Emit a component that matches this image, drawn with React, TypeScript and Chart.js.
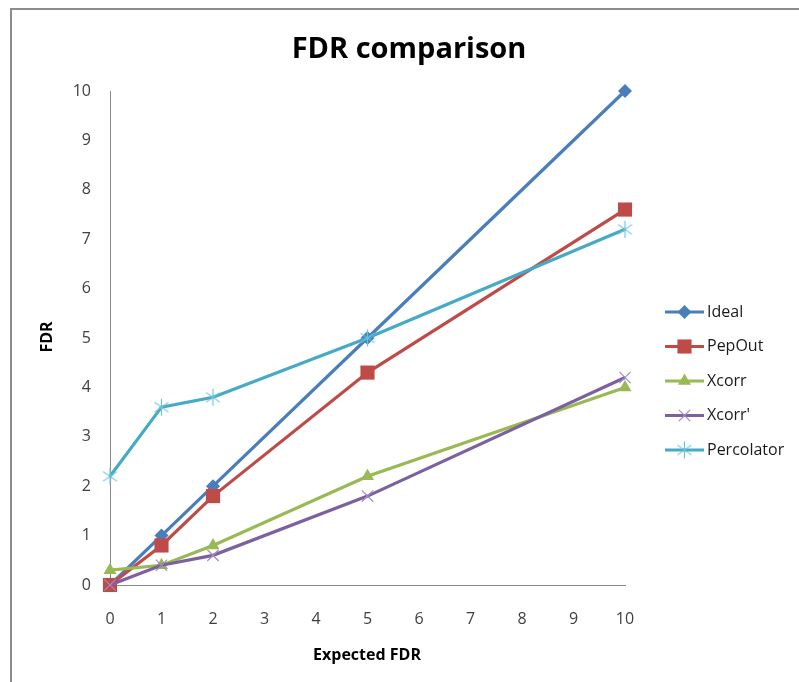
import React, { useEffect, useRef } from 'react';
import { Chart, registerables } from 'chart.js';

Chart.register(...registerables);

// ---- data ----
const xValues = [0, 1, 2, 5, 10];
const seriesNames = ['Ideal', 'PepOut', 'Xcorr', "Xcorr'", 'Percolator'];
const ideal = [0, 1, 2, 5, 10];
const pepOut = [0, 0.8, 1.8, 4.3, 7.6];
const xcorr = [0.3, 0.4, 0.8, 2.2, 4.0];
const xcorrPrime = [0, 0.4, 0.6, 1.8, 4.2];
const percolator = [2.2, 3.6, 3.8, 5.0, 7.2];
const xTickLabels = ['0', '1', '2', '3', '4', '5', '6', '7', '8', '9', '10'];
const yTickLabels = ['0', '1', '2', '3', '4', '5', '6', '7', '8', '9', '10'];

const titleText = 'FDR comparison';
const xTitle = 'Expected FDR';
const yTitle = 'FDR';

const FONT = "'Open Sans', 'DejaVu Sans', sans-serif";
const lineColors = ['#4A7EBB', '#BE4B48', '#98B954', '#7D60A0', '#46AAC5'];
const markerStroke = ['#4A7EBB', '#BE4B48', '#98B954', '#A08CC4', '#6CC3D9'];
const markerStyles = ['rectRot', 'rect', 'triangle', 'crossRot', 'asterisk'];
const markerRadius = [7, 10, 7.5, 8, 8.5];

function makeAsterisk(color: string, r: number) {
  const c = document.createElement('canvas');
  const s = Math.ceil(r * 2 + 2);
  c.width = s;
  c.height = s;
  const g = c.getContext('2d') as CanvasRenderingContext2D;
  g.strokeStyle = color;
  g.lineWidth = 1.2;
  const cx = s / 2, cy = s / 2;
  g.beginPath();
  for (const deg of [90, 35, 145]) {
    const a = (deg * Math.PI) / 180;
    g.moveTo(cx - r * Math.cos(a), cy - r * Math.sin(a));
    g.lineTo(cx + r * Math.cos(a), cy + r * Math.sin(a));
  }
  g.stroke();
  return c;
}

function drawMarker(ctx: CanvasRenderingContext2D, i: number, x: number, y: number, asterisk: HTMLCanvasElement) {
  const style = markerStyles[i];
  const r = markerRadius[i];
  ctx.save();
  ctx.fillStyle = lineColors[i];
  ctx.strokeStyle = markerStroke[i];
  ctx.lineWidth = 1.2;
  ctx.beginPath();
  if (style === 'rectRot') {
    ctx.moveTo(x, y - r);
    ctx.lineTo(x + r, y);
    ctx.lineTo(x, y + r);
    ctx.lineTo(x - r, y);
    ctx.closePath();
    ctx.fill();
  } else if (style === 'rect') {
    const h = r * Math.SQRT1_2;
    ctx.rect(x - h, y - h, 2 * h, 2 * h);
    ctx.fill();
  } else if (style === 'triangle') {
    for (let k = 0; k < 3; k++) {
      const a = (k * 2 * Math.PI) / 3;
      const px = x + Math.sin(a) * r;
      const py = y - Math.cos(a) * r;
      if (k === 0) ctx.moveTo(px, py);
      else ctx.lineTo(px, py);
    }
    ctx.closePath();
    ctx.fill();
  } else if (style === 'crossRot') {
    const h = r * Math.SQRT1_2;
    ctx.moveTo(x - h, y - h);
    ctx.lineTo(x + h, y + h);
    ctx.moveTo(x + h, y - h);
    ctx.lineTo(x - h, y + h);
    ctx.stroke();
  } else {
    ctx.drawImage(asterisk, x - asterisk.width / 2, y - asterisk.height / 2);
  }
  ctx.restore();
}

export default function App() {
  const ref = useRef<HTMLCanvasElement | null>(null);

  useEffect(() => {
    if (!ref.current) return;
    const asterisk = makeAsterisk(markerStroke[4], markerRadius[4]);
    const seriesValues = [ideal, pepOut, xcorr, xcorrPrime, percolator];

    const datasets = seriesNames.map((name, i) => ({
      label: name,
      data: xValues.map((x, k) => ({ x, y: seriesValues[i][k] })),
      borderColor: lineColors[i],
      backgroundColor: lineColors[i],
      borderWidth: 3.2,
      pointStyle: markerStyles[i] === 'asterisk' ? asterisk : markerStyles[i],
      pointRadius: markerRadius[i],
      pointBackgroundColor: lineColors[i],
      pointBorderColor: markerStroke[i],
      pointBorderWidth: markerStyles[i] === 'crossRot' || markerStyles[i] === 'asterisk' ? 1.2 : 0,
      tension: 0,
      fill: false,
      clip: false as any,
      order: seriesNames.length - i,
    }));

    const textPlugin = {
      id: 'texts',
      afterDraw(chart: any) {
        const ctx = chart.ctx as CanvasRenderingContext2D;
        ctx.save();
        ctx.fillStyle = '#000';
        ctx.textAlign = 'center';
        ctx.textBaseline = 'alphabetic';
        ctx.font = `bold 29px ${FONT}`;
        ctx.fillText(titleText, 409, 58);
        ctx.font = `bold 16px ${FONT}`;
        ctx.fillText(xTitle, 367, 660);
        ctx.save();
        ctx.translate(47, 337);
        ctx.rotate(-Math.PI / 2);
        ctx.textBaseline = 'middle';
        ctx.fillText(yTitle, 0, 0);
        ctx.restore();

        // legend
        const legendYs = [312, 346.5, 381, 415.5, 450];
        ctx.font = `16px ${FONT}`;
        ctx.textAlign = 'left';
        ctx.textBaseline = 'middle';
        seriesNames.forEach((name, i) => {
          const y = legendYs[i];
          ctx.strokeStyle = lineColors[i];
          ctx.lineWidth = 3.2;
          ctx.beginPath();
          ctx.moveTo(665, y);
          ctx.lineTo(704, y);
          ctx.stroke();
          drawMarker(ctx, i, 684.5, y, asterisk);
          ctx.fillStyle = '#1a1a1a';
          ctx.fillText(name, 707, y);
        });
        ctx.restore();
      },
    };

    const chart = new Chart(ref.current, {
      type: 'line',
      data: { datasets },
      options: {
        animation: false,
        responsive: false,
        devicePixelRatio: 1,
        layout: { padding: { left: 0, top: 91, right: 174, bottom: 0 } },
        plugins: {
          legend: { display: false },
          title: { display: false },
          tooltip: { enabled: false },
        },
        scales: {
          x: {
            type: 'linear',
            min: 0,
            max: 10,
            grid: { display: false },
            border: { display: true, color: '#8a8a8a', width: 1 },
            ticks: {
              stepSize: 1,
              color: '#404040',
              font: { family: FONT, size: 16 },
              padding: 17,
              callback: (v: any) => xTickLabels[Number(v)] ?? '',
            },
            afterFit: (s: any) => {
              s.height = 97;
            },
          },
          y: {
            type: 'linear',
            min: 0,
            max: 10,
            grid: { display: false },
            border: { display: true, color: '#8a8a8a', width: 1 },
            ticks: {
              stepSize: 1,
              color: '#404040',
              font: { family: FONT, size: 16 },
              padding: 11,
              callback: (v: any) => yTickLabels[Number(v)] ?? '',
            },
            afterFit: (s: any) => {
              s.width = 110;
            },
          },
        },
      } as any,
      plugins: [textPlugin],
    });
    return () => chart.destroy();
  }, []);

  return (
    <div
      style={{
        position: 'absolute',
        left: 0,
        top: 0,
        width: 799,
        height: 682,
        overflow: 'hidden',
        background: '#fff',
      }}
    >
      <div
        style={{
          position: 'absolute',
          left: 10,
          top: 8,
          width: 900,
          height: 900,
          border: '2px solid #8c8c8c',
        }}
      />
      <canvas
        ref={ref}
        width={799}
        height={682}
        style={{ position: 'absolute', left: 0, top: 0, width: 799, height: 682 }}
      />
    </div>
  );
}
